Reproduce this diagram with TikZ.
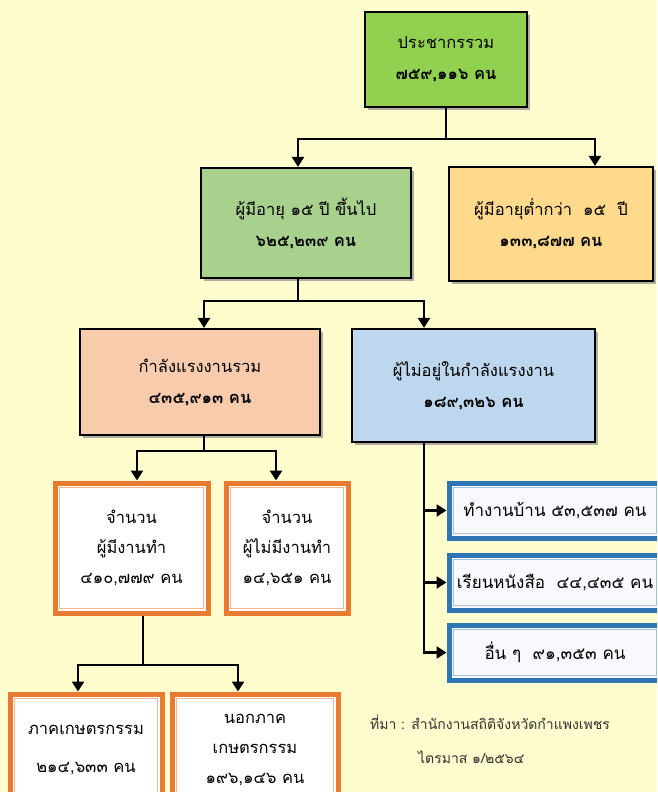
\documentclass[tikz,border=0pt]{standalone}
\usepackage{fontspec}
\setmainfont[Script=Thai]{Loma}
\usetikzlibrary{positioning,shadows,arrows.meta}

\definecolor{bgyellow}{HTML}{FFFCCD}
\definecolor{popgreen}{HTML}{92D050}
\definecolor{agegreen}{HTML}{A9D18E}
\definecolor{ageorange}{HTML}{FFD98C}
\definecolor{laborpink}{HTML}{F8CBAD}
\definecolor{laborblue}{HTML}{BDD7EE}
\definecolor{frameorange}{HTML}{E97A32}
\definecolor{frameblue}{HTML}{2E75B6}
\definecolor{srcgray}{HTML}{333333}

\tikzset{
  main/.style = {draw, line width=2.2pt, align=center, inner sep=0pt,
    font=\fontsize{16.5}{31}\selectfont,
    drop shadow={shadow xshift=3pt, shadow yshift=-3pt, fill=black!45, opacity=.7}},
  orgbox/.style = {draw=frameorange, line width=5pt, fill=white, align=center, inner sep=0pt,
    font=\fontsize{16.5}{30}\selectfont,
    path picture={\draw[frameorange!55, line width=1.2pt]
      ([shift={(4.5pt,4.5pt)}]path picture bounding box.south west) rectangle
      ([shift={(-4.5pt,-4.5pt)}]path picture bounding box.north east);}},
  bluebox/.style = {draw=frameblue, line width=5pt, fill=frameblue!4, align=center, inner sep=0pt,
    font=\fontsize{17}{30}\selectfont, minimum width=212pt, minimum height=55pt,
    path picture={\draw[frameblue!45, line width=1.2pt]
      ([shift={(4.5pt,4.5pt)}]path picture bounding box.south west) rectangle
      ([shift={(-4.5pt,-4.5pt)}]path picture bounding box.north east);}},
  conn/.style = {line width=2.5pt},
  source/.style = {anchor=west, inner sep=0pt, text=srcgray, font=\fontsize{14}{16}\selectfont}
}

\begin{document}
\begin{tikzpicture}[x=1pt, y=-1pt, >={Triangle[width=12pt,length=10pt]}]

    \useasboundingbox (0,0) rectangle (657,792);
    \fill[bgyellow] (0,0) rectangle (657,792);
    \clip (0,0) rectangle (657,792);

    % top levels
    \node[main, fill=popgreen, minimum width=162pt, minimum height=95pt] (pop) at (446,59.5)
        {ประชากรรวม\\\textbf{๗๕๙,๑๑๖ คน}};
    \node[main, fill=agegreen, minimum width=210pt, minimum height=110pt] (over15) at (306,223)
        {ผู้มีอายุ ๑๕ ปี ขึ้นไป\\\textbf{๖๒๕,๒๓๙ คน}};
    \node[main, fill=ageorange, minimum width=204pt, minimum height=114pt] (under15) at (551,224)
        {ผู้มีอายุต่ำกว่า~ ๑๕~ ปี\\\textbf{๑๓๓,๘๗๗ คน}};
    \node[main, fill=laborpink, minimum width=240pt, minimum height=106pt] (labor) at (200,382)
        {กำลังแรงงานรวม\\\textbf{๔๓๕,๙๑๓ คน}};
    \node[main, fill=laborblue, minimum width=243pt, minimum height=113pt] (notlabor) at (473.5,385.5)
        {ผู้ไม่อยู่ในกำลังแรงงาน\\\textbf{๑๘๙,๓๒๖ คน}};

    % labour force
    \node[orgbox, minimum width=153pt, minimum height=130pt] (employed) at (131.5,548)
        {จำนวน\\ผู้มีงานทำ\\๔๑๐,๗๗๙ คน};
    \node[orgbox, minimum width=122pt, minimum height=130pt] (unemployed) at (287,548)
        {จำนวน\\ผู้ไม่มีงานทำ\\๑๔,๖๕๑ คน};
    \node[orgbox, minimum width=152pt, minimum height=112pt] (agri) at (86,750)
        {ภาคเกษตรกรรม\\[8pt]๒๑๔,๖๓๓ คน};
    \node[orgbox, minimum width=166pt, minimum height=112pt] (nonagri) at (255,750)
        {นอกภาค\\เกษตรกรรม\\๑๙๖,๑๔๖ คน};

    % outside labour force
    \node[bluebox] (house) at (555,510.5) {ทำงานบ้าน ๕๓,๕๓๗ คน};
    \node[bluebox] (study) at (555,582.5) {เรียนหนังสือ~ ๔๔,๔๓๕ คน};
    \node[bluebox] (other) at (555,652.5) {อื่น ๆ~ ๙๑,๓๕๓ คน};

    \node[source] (src1) at (370,722) {ที่มา : สำนักงานสถิติจังหวัดกำแพงเพชร};
    \node[source] (src2) at (418,757) {ไตรมาส ๑/๒๕๖๔};

    % connectors
    \coordinate (j1) at (446,139);
    \draw[conn] (pop) -- (j1);
    \draw[conn,->] (j1) -| ([xshift=-8pt]over15.north);
    \draw[conn,->] (j1) -| ([xshift=44pt]under15.north);

    \coordinate (j2) at (298,301);
    \draw[conn] ([xshift=-8pt]over15.south) -- (j2);
    \draw[conn,->] (j2) -| ([xshift=4pt]labor.north);
    \draw[conn,->] (j2) -| ([xshift=-49.5pt]notlabor.north);

    \coordinate (j3) at (204,451);
    \draw[conn] ([xshift=4pt]labor.south) -- (j3);
    \draw[conn,->] (j3) -| ([xshift=5.5pt]employed.north);
    \draw[conn,->] (j3) -| ([xshift=-11pt]unemployed.north);

    \coordinate (j4) at (143,665);
    \draw[conn] ([xshift=11.5pt]employed.south) -- (j4);
    \draw[conn,->] (j4) -| ([xshift=-8pt]agri.north);
    \draw[conn,->] (j4) -| ([xshift=-17pt]nonagri.north);

    \draw[conn,->] ([xshift=-49.5pt]notlabor.south) |- (house.west);
    \draw[conn,->] ([xshift=-49.5pt]notlabor.south) |- (study.west);
    \draw[conn,->] ([xshift=-49.5pt]notlabor.south) |- (other.west);

\end{tikzpicture}
\end{document}
